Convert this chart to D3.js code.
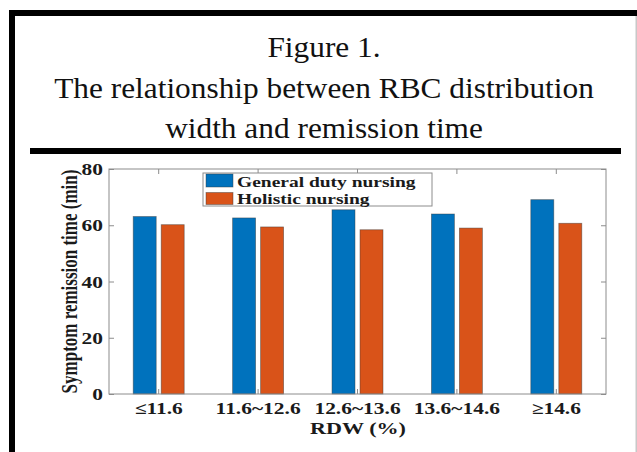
<!DOCTYPE html>
<html>
<head>
<meta charset="utf-8">
<script src="https://cdn.jsdelivr.net/npm/d3@7"></script>
<style>
  body { margin: 0; background: #fff; }
  svg { display: block; }
</style>
</head>
<body>
<div id="chart"></div>
<script>
// data
const categories = ["\u226411.6", "11.6~12.6", "12.6~13.6", "13.6~14.6", "\u226514.6"];
const seriesNames = ["General duty nursing", "Holistic nursing"];
const generalDuty = [63.1, 62.6, 65.5, 64.0, 69.1];
const holistic = [60.2, 59.4, 58.4, 59.0, 60.7];
const yTicks = [0, 20, 40, 60, 80];
const titleLines = ["Figure 1.", "The relationship between RBC distribution", "width and remission time"];
const colors = ["#0072bd", "#d95319"];

const W = 637, H = 452;
const plot = { left: 109, right: 606, top: 169, bottom: 394 };
const stretch = 1.3; // the picture is widened horizontally
const textCol = "#1a1a1a";
const axisCol = "#8c8c8c";

const svg = d3.select("#chart").append("svg")
    .attr("width", W)
    .attr("height", H);

svg.append("rect").attr("width", W).attr("height", H).attr("fill", "#fff");

// frame
svg.append("rect").attr("x", 9).attr("y", 10).attr("width", W - 9).attr("height", 6).attr("fill", "#000");
svg.append("rect").attr("x", 9).attr("y", 10).attr("width", 6).attr("height", H - 10).attr("fill", "#000");
svg.append("rect").attr("x", 635.5).attr("y", 16).attr("width", 1.5).attr("height", H - 16).attr("fill", "#c8c8c8");
svg.append("rect").attr("x", 30).attr("y", 148).attr("width", 591).attr("height", 6).attr("fill", "#000");

// title
const title = svg.append("g");
const titleBase = [57, 98, 138];
const titleText = title.selectAll("text")
    .data(titleLines)
    .join("text")
    .attr("text-anchor", "middle")
    .attr("font-family", "'Liberation Serif', 'Times New Roman', serif")
    .attr("font-size", 30)
    .attr("fill", "#111")
    .text(d => d);
const widest = titleText.nodes()[1].getComputedTextLength();
const tScale = 540 / widest;
titleText.attr("transform", (d, i) => `translate(324,${titleBase[i]}) scale(${tScale},1)`);

// scales
const x = d3.scaleBand()
    .domain(categories)
    .range([plot.left, plot.right])
    .paddingInner(0.487)
    .paddingOuter(0.2435);

const xInner = d3.scaleBand()
    .domain(seriesNames)
    .range([0, x.bandwidth()])
    .paddingInner(0.179);

const y = d3.scaleLinear()
    .domain([0, 80])
    .range([plot.bottom, plot.top]);

const rows = categories.map((c, i) => ({
    cat: c,
    values: [
        { name: seriesNames[0], value: generalDuty[i], color: colors[0] },
        { name: seriesNames[1], value: holistic[i], color: colors[1] }
    ]
}));

// bars
svg.append("g")
    .selectAll("g")
    .data(rows)
    .join("g")
    .attr("transform", d => `translate(${x(d.cat)},0)`)
    .selectAll("rect")
    .data(d => d.values)
    .join("rect")
    .attr("x", d => xInner(d.name))
    .attr("y", d => y(d.value))
    .attr("width", xInner.bandwidth())
    .attr("height", d => y(0) - y(d.value))
    .attr("fill", d => d.color)
    .attr("stroke", "#3a3a3a")
    .attr("stroke-opacity", 0.55)
    .attr("stroke-width", 0.8);

// axis box
svg.append("rect")
    .attr("x", plot.left).attr("y", plot.top)
    .attr("width", plot.right - plot.left)
    .attr("height", plot.bottom - plot.top)
    .attr("fill", "none")
    .attr("stroke", axisCol)
    .attr("stroke-width", 1);

const fontChart = "'Liberation Serif', 'Times New Roman', serif";

// left axis
const yAxis = svg.append("g")
    .attr("transform", `translate(${plot.left},0)`)
    .call(d3.axisLeft(y).tickValues(yTicks).tickSizeInner(-5).tickSizeOuter(0));
yAxis.select(".domain").remove();
yAxis.selectAll(".tick line").attr("stroke", axisCol);
yAxis.selectAll(".tick text")
    .attr("x", 0)
    .attr("dy", "0.34em")
    .attr("transform", `translate(-6,0) scale(${stretch},1)`)
    .attr("font-family", fontChart)
    .attr("font-weight", "bold")
    .attr("font-size", 16.5)
    .attr("fill", textCol);

// right axis ticks
const yRight = svg.append("g")
    .attr("transform", `translate(${plot.right},0)`)
    .call(d3.axisRight(y).tickValues(yTicks).tickSizeInner(-5).tickSizeOuter(0).tickFormat(""));
yRight.select(".domain").remove();
yRight.selectAll(".tick line").attr("stroke", axisCol);

// bottom axis
const xAxis = svg.append("g")
    .attr("transform", `translate(0,${plot.bottom})`)
    .call(d3.axisBottom(x).tickSizeInner(-5).tickSizeOuter(0));
xAxis.select(".domain").remove();
xAxis.selectAll(".tick line").attr("stroke", axisCol);
xAxis.selectAll(".tick text")
    .attr("y", 0)
    .attr("dy", 0)
    .attr("transform", `translate(0,20) scale(${stretch},1)`)
    .attr("font-family", fontChart)
    .attr("font-weight", "bold")
    .attr("font-size", 16.5)
    .attr("fill", textCol);

// top axis ticks
const xTop = svg.append("g")
    .attr("transform", `translate(0,${plot.top})`)
    .call(d3.axisTop(x).tickSizeInner(-5).tickSizeOuter(0).tickFormat(""));
xTop.select(".domain").remove();
xTop.selectAll(".tick line").attr("stroke", axisCol);

// axis titles
svg.append("text")
    .attr("transform", `translate(358,434) scale(${stretch},1)`)
    .attr("text-anchor", "middle")
    .attr("font-family", fontChart)
    .attr("font-weight", "bold")
    .attr("font-size", 17)
    .attr("fill", textCol)
    .text("RDW (%)");

svg.append("text")
    .attr("transform", `translate(77,${(plot.top + plot.bottom) / 2}) scale(${stretch},1) rotate(-90)`)
    .attr("text-anchor", "middle")
    .attr("font-family", fontChart)
    .attr("font-weight", "bold")
    .attr("font-size", 17)
    .attr("fill", textCol)
    .text("Symptom remission time (min)");

// legend
const legend = svg.append("g");
legend.append("rect")
    .attr("x", 203).attr("y", 173)
    .attr("width", 229).attr("height", 33)
    .attr("fill", "#fff")
    .attr("stroke", axisCol)
    .attr("stroke-width", 1);

const legendRows = [
    { name: seriesNames[0], color: colors[0], y: 174, h: 13, base: 187 },
    { name: seriesNames[1], color: colors[1], y: 192.5, h: 12, base: 204 }
];
const li = legend.selectAll("g.item")
    .data(legendRows)
    .join("g")
    .attr("class", "item");
li.append("rect")
    .attr("x", 206).attr("y", d => d.y)
    .attr("width", 27).attr("height", d => d.h)
    .attr("fill", d => d.color)
    .attr("stroke", "#3a3a3a")
    .attr("stroke-opacity", 0.55)
    .attr("stroke-width", 0.8);
li.append("text")
    .attr("transform", d => `translate(237,${d.base}) scale(${stretch},1)`)
    .attr("font-family", fontChart)
    .attr("font-weight", "bold")
    .attr("font-size", 15)
    .attr("fill", textCol)
    .text(d => d.name);
</script>
</body>
</html>
